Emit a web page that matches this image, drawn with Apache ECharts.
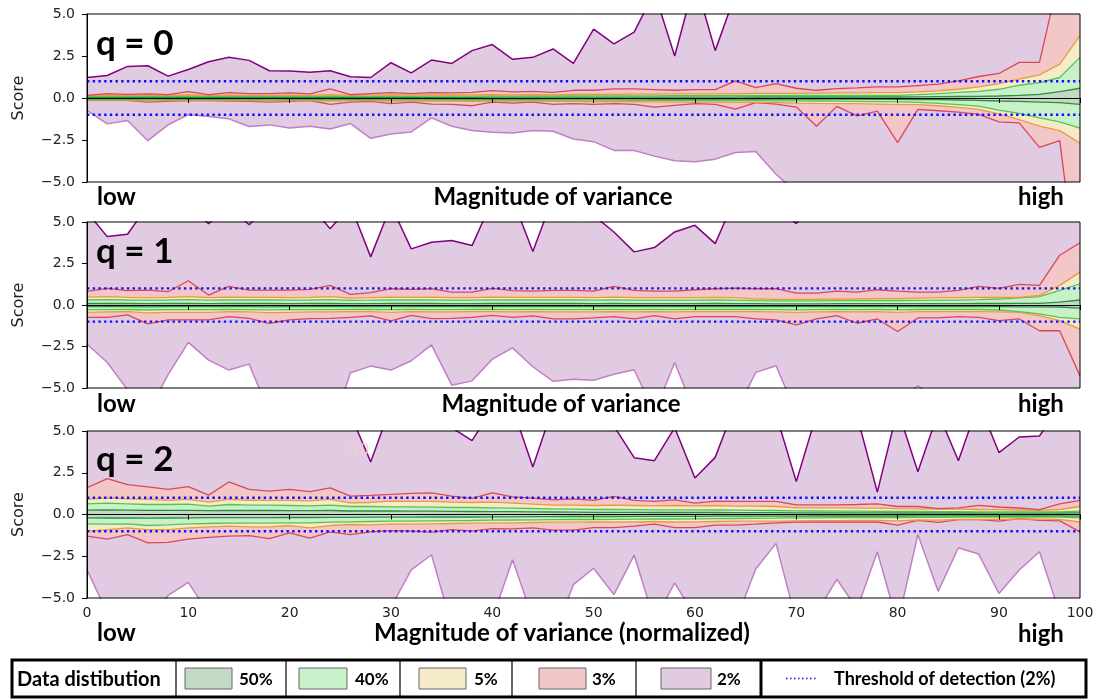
<!DOCTYPE html>
<html><head><meta charset="utf-8">
<script src="https://cdn.jsdelivr.net/npm/echarts@6/dist/echarts.min.js"></script>
<style>html,body{margin:0;padding:0;background:#fff}#c{width:1105px;height:699px}</style>
</head><body><div id="c"></div><script>
// ---------- DATA ----------
const xs = [0,2,4,6,8,10,12,14,16,18,20,22,24,26,28,30,32,34,36,38,40,42,44,46,48,50,52,54,56,58,60,62,64,66,68,70,72,74,76,78,80,82,84,86,88,90,92,94,96,98];
const threshold = [1, -1];
const panelTitles = ['q = 0', 'q = 1', 'q = 2'];
const xAxisTitles = ['Magnitude of variance', 'Magnitude of variance', 'Magnitude of variance (normalized)'];
const legendTitle = 'Data distibution';
const legendLabels = ['50%', '40%', '5%', '3%', '2%'];
const thresholdLabel = 'Threshold of detection (2%)';

// q = 0
const q0_p100 = [1.22,1.34,1.88,1.92,1.30,1.70,2.16,2.42,2.24,1.62, 1.60,1.54,1.62,1.26,1.22,2.10,1.50,2.26,2.06,2.82, 3.18,2.30,2.42,2.92,2.06,4.10,3.22,3.92,6.30,2.50, 7.00,2.82,6.20,7.00,7.00,7.00,7.00,7.00,7.00,7.00, 7.00,7.00,7.00,7.00,7.00,7.00,7.00,7.00,7.00,7.00];
const q0_p99 = [0.16,0.26,0.22,0.24,0.20,0.38,0.20,0.32,0.26,0.26, 0.30,0.24,0.54,0.20,0.26,0.32,0.26,0.32,0.30,0.34, 0.44,0.36,0.40,0.34,0.46,0.46,0.54,0.54,0.50,0.46, 0.50,0.50,1.02,0.62,0.86,0.58,0.46,0.56,0.60,0.66, 0.66,0.74,0.82,1.02,1.28,1.46,2.12,2.12,7.40,10.0];
const q0_p975 = [0.16,0.18,0.16,0.17,0.16,0.18,0.16,0.17,0.16,0.16, 0.17,0.16,0.20,0.16,0.17,0.18,0.17,0.18,0.18,0.19, 0.20,0.19,0.20,0.19,0.21,0.22,0.22,0.23,0.23,0.24, 0.24,0.25,0.26,0.27,0.28,0.28,0.29,0.30,0.31,0.32, 0.32,0.36,0.42,0.52,0.66,0.86,1.12,1.38,2.02,3.72];
const q0_p95 = [0.10,0.11,0.10,0.10,0.10,0.11,0.10,0.10,0.10,0.10, 0.10,0.10,0.12,0.10,0.10,0.11,0.10,0.11,0.11,0.11, 0.12,0.11,0.12,0.12,0.12,0.13,0.13,0.13,0.13,0.14, 0.14,0.14,0.15,0.15,0.15,0.15,0.15,0.15,0.16,0.16, 0.16,0.20,0.26,0.33,0.40,0.52,0.76,0.92,1.22,2.42];
const q0_p75 = [0.04,0.04,0.04,0.04,0.04,0.04,0.04,0.04,0.04,0.04, 0.04,0.04,0.05,0.04,0.04,0.04,0.04,0.04,0.04,0.04, 0.05,0.05,0.05,0.05,0.05,0.05,0.05,0.05,0.05,0.05, 0.05,0.05,0.05,0.06,0.06,0.06,0.06,0.06,0.06,0.06, 0.06,0.07,0.08,0.09,0.10,0.12,0.16,0.22,0.38,0.58];
const q0_p25 = [-0.04,-0.04,-0.04,-0.04,-0.04,-0.04,-0.04,-0.04,-0.04,-0.04, -0.04,-0.04,-0.05,-0.04,-0.04,-0.04,-0.04,-0.04,-0.05,-0.05, -0.05,-0.05,-0.05,-0.05,-0.05,-0.05,-0.05,-0.05,-0.06,-0.06, -0.06,-0.06,-0.06,-0.06,-0.06,-0.07,-0.07,-0.07,-0.07,-0.08, -0.08,-0.09,-0.10,-0.12,-0.14,-0.18,-0.20,-0.24,-0.28,-0.38];
const q0_p5 = [-0.10,-0.10,-0.10,-0.11,-0.10,-0.10,-0.10,-0.10,-0.10,-0.11, -0.10,-0.10,-0.12,-0.10,-0.10,-0.11,-0.11,-0.11,-0.12,-0.12, -0.12,-0.12,-0.12,-0.13,-0.13,-0.13,-0.13,-0.14,-0.14,-0.14, -0.15,-0.15,-0.16,-0.16,-0.17,-0.17,-0.18,-0.19,-0.20,-0.21, -0.22,-0.26,-0.32,-0.40,-0.48,-0.72,-0.92,-1.18,-1.42,-1.80];
const q0_p025 = [-0.15,-0.16,-0.15,-0.17,-0.16,-0.15,-0.15,-0.16,-0.16,-0.17, -0.16,-0.15,-0.19,-0.16,-0.16,-0.18,-0.17,-0.18,-0.19,-0.20, -0.18,-0.19,-0.19,-0.20,-0.20,-0.21,-0.21,-0.22,-0.23,-0.23, -0.24,-0.24,-0.26,-0.26,-0.27,-0.30,-0.32,-0.33,-0.34,-0.36, -0.38,-0.40,-0.46,-0.56,-0.68,-0.94,-1.28,-1.68,-1.94,-2.68];
const q0_p1 = [-0.10,-0.12,-0.14,-0.24,-0.20,-0.16,-0.16,-0.18,-0.20,-0.24, -0.20,-0.16,-0.38,-0.24,-0.20,-0.34,-0.24,-0.36,-0.38,-0.46, -0.24,-0.30,-0.24,-0.38,-0.34,-0.38,-0.34,-0.38,-0.54,-0.44, -0.34,-0.38,-0.66,-0.28,-0.36,-0.54,-1.68,-0.50,-1.06,-0.78, -2.66,-0.68,-0.76,-0.84,-0.98,-1.42,-1.48,-2.94,-2.54,-12.0];
const q0_p0 = [-0.74,-1.54,-1.34,-2.54,-1.60,-0.98,-1.10,-1.24,-1.70,-1.60, -1.78,-1.68,-1.84,-1.52,-2.40,-2.14,-2.02,-1.18,-1.68,-1.94, -2.04,-2.08,-1.94,-1.98,-2.44,-2.60,-3.12,-3.12,-3.46,-3.74, -3.80,-3.64,-3.24,-3.18,-4.54,-5.60,-7.0,-7.0,-7.0,-7.0, -7.0,-7.0,-7.0,-7.0,-7.0,-7.0,-7.0,-7.0,-7.0,-7.0];

// q = 1
const q1_p100 = [5.60,4.12,4.26,6.00,7.00,6.00,4.90,6.00,4.83,6.00, 6.50,6.00,4.60,6.00,2.90,6.00,3.38,3.78,3.88,3.58, 6.30,6.40,3.22,6.50,6.00,5.40,4.40,3.20,3.46,4.40, 4.80,3.70,6.50,6.00,6.00,4.90,6.50,7.00,7.00,7.00, 7.00,7.00,7.00,7.00,7.00,7.00,7.00,7.00,7.00,7.00];
const q1_p99 = [0.82,1.00,0.86,0.90,0.80,1.46,0.60,1.12,0.90,0.90, 0.90,0.94,1.18,0.64,0.74,0.98,0.94,0.98,0.78,0.78, 1.00,0.86,0.84,0.88,0.88,0.84,1.12,0.88,0.84,0.84, 0.92,0.98,1.02,0.98,0.98,0.72,0.72,0.84,0.78,0.92, 0.84,0.78,0.78,0.88,1.12,1.00,1.24,1.18,3.00,3.75];
const q1_p975 = [0.48,0.50,0.46,0.44,0.46,0.50,0.44,0.48,0.46,0.46, 0.44,0.46,0.50,0.42,0.44,0.48,0.46,0.48,0.44,0.44, 0.48,0.46,0.46,0.46,0.46,0.44,0.48,0.44,0.44,0.44, 0.44,0.46,0.44,0.36,0.34,0.34,0.34,0.36,0.36,0.38, 0.38,0.42,0.44,0.44,0.46,0.46,0.46,0.58,1.18,1.98];
const q1_p95 = [0.30,0.32,0.30,0.29,0.30,0.32,0.29,0.31,0.30,0.30, 0.29,0.30,0.32,0.28,0.29,0.31,0.30,0.31,0.29,0.29, 0.31,0.30,0.30,0.30,0.30,0.29,0.31,0.29,0.29,0.29, 0.29,0.30,0.29,0.26,0.25,0.25,0.25,0.26,0.26,0.27, 0.27,0.28,0.29,0.29,0.32,0.36,0.43,0.51,0.88,1.28];
const q1_p75 = [0.09,0.09,0.09,0.08,0.09,0.09,0.08,0.09,0.09,0.09, 0.08,0.09,0.09,0.08,0.08,0.09,0.09,0.09,0.08,0.08, 0.09,0.09,0.09,0.09,0.09,0.08,0.09,0.08,0.08,0.08, 0.08,0.09,0.08,0.08,0.07,0.07,0.07,0.08,0.08,0.08, 0.08,0.08,0.08,0.08,0.09,0.09,0.10,0.10,0.17,0.30];
const q1_p25 = [-0.10,-0.10,-0.10,-0.11,-0.10,-0.10,-0.10,-0.10,-0.10,-0.11, -0.10,-0.10,-0.10,-0.10,-0.10,-0.10,-0.10,-0.10,-0.10,-0.10, -0.10,-0.10,-0.10,-0.10,-0.10,-0.10,-0.10,-0.10,-0.10,-0.10, -0.10,-0.10,-0.10,-0.10,-0.10,-0.10,-0.10,-0.10,-0.10,-0.10, -0.10,-0.10,-0.10,-0.10,-0.10,-0.10,-0.11,-0.11,-0.12,-0.19];
const q1_p5 = [-0.28,-0.28,-0.27,-0.30,-0.28,-0.28,-0.28,-0.27,-0.28,-0.29, -0.28,-0.28,-0.28,-0.27,-0.27,-0.28,-0.27,-0.28,-0.28,-0.27, -0.27,-0.28,-0.27,-0.28,-0.28,-0.28,-0.27,-0.28,-0.27,-0.28, -0.27,-0.27,-0.27,-0.27,-0.28,-0.29,-0.28,-0.27,-0.28,-0.27, -0.29,-0.27,-0.27,-0.27,-0.27,-0.30,-0.40,-0.54,-0.74,-0.84];
const q1_p025 = [-0.44,-0.42,-0.40,-0.48,-0.44,-0.44,-0.44,-0.40,-0.42,-0.46, -0.44,-0.42,-0.42,-0.40,-0.40,-0.44,-0.40,-0.42,-0.42,-0.40, -0.40,-0.42,-0.40,-0.42,-0.42,-0.42,-0.40,-0.42,-0.40,-0.42, -0.40,-0.40,-0.40,-0.40,-0.42,-0.44,-0.42,-0.40,-0.42,-0.40, -0.44,-0.40,-0.40,-0.40,-0.40,-0.42,-0.44,-0.64,-0.94,-1.45];
const q1_p1 = [-0.74,-0.74,-0.60,-1.14,-0.90,-0.90,-0.90,-0.70,-0.80,-1.10, -0.90,-0.82,-0.80,-0.74,-0.66,-0.96,-0.62,-0.82,-0.80,-0.74, -0.62,-0.74,-0.66,-0.84,-0.84,-0.78,-0.70,-0.84,-0.64,-0.84, -0.70,-0.70,-0.70,-0.84,-0.90,-1.20,-0.84,-0.64,-1.10,-0.84, -1.60,-0.78,-0.78,-0.70,-0.74,-0.94,-0.84,-1.55,-1.55,-4.27];
const q1_p0 = [-2.35,-3.46,-5.10,-6.50,-4.20,-2.25,-3.32,-3.92,-3.56,-6.50, -7.00,-7.00,-7.80,-4.08,-3.68,-3.92,-3.36,-2.40,-4.83,-4.57, -3.26,-2.58,-3.72,-4.60,-4.47,-4.53,-4.17,-3.90,-6.50,-3.46, -6.50,-7.00,-6.50,-4.06,-3.66,-6.50,-7.00,-7.00,-7.00,-7.00, -6.00,-4.85,-6.00,-7.00,-7.00,-7.00,-7.00,-7.00,-7.00,-7.00];

// q = 2
const q2_p100 = [6.50,7.00,7.00,7.00,7.00,7.00,7.00,7.00,7.00,7.00, 7.00,7.00,7.00,6.00,3.15,6.50,7.00,6.50,5.20,4.42, 6.35,6.40,2.85,6.45,7.00,7.00,5.30,3.40,3.22,5.20, 2.19,3.42,6.60,7.00,6.00,1.97,6.00,7.00,5.90,1.34, 6.30,2.56,6.10,3.22,6.70,3.71,4.64,4.70,6.50,7.00];
const q2_p99 = [1.60,2.15,1.79,1.65,1.50,1.67,1.16,1.95,1.50,1.40, 1.50,1.37,1.60,1.10,1.14,1.20,1.27,1.30,1.10,0.96, 1.30,1.06,0.98,0.88,0.94,0.84,1.08,0.84,0.78,0.88, 0.68,0.80,0.78,0.78,0.78,0.58,0.58,0.58,0.60,0.64, 0.48,0.48,0.35,0.40,0.55,0.45,0.39,0.29,0.64,0.84];
const q2_p975 = [0.90,1.00,0.94,0.90,0.84,0.90,0.74,0.90,0.84,0.84, 0.84,0.82,0.90,0.70,0.72,0.80,0.78,0.78,0.74,0.72, 0.74,0.68,0.62,0.56,0.56,0.54,0.56,0.54,0.52,0.54, 0.52,0.54,0.50,0.50,0.48,0.40,0.40,0.40,0.38,0.38, 0.35,0.34,0.32,0.32,0.30,0.29,0.27,0.25,0.30,0.48];
const q2_p95 = [0.64,0.68,0.64,0.60,0.60,0.62,0.50,0.60,0.56,0.56, 0.54,0.52,0.56,0.48,0.48,0.46,0.46,0.44,0.42,0.42, 0.40,0.38,0.36,0.34,0.32,0.30,0.30,0.29,0.28,0.28, 0.28,0.27,0.26,0.25,0.24,0.22,0.21,0.20,0.20,0.19, 0.18,0.18,0.17,0.17,0.16,0.15,0.15,0.15,0.16,0.20];
const q2_p75 = [0.26,0.27,0.26,0.25,0.25,0.25,0.23,0.25,0.24,0.24, 0.23,0.23,0.24,0.21,0.21,0.21,0.20,0.20,0.19,0.18, 0.17,0.17,0.16,0.15,0.14,0.13,0.13,0.13,0.12,0.12, 0.12,0.12,0.11,0.11,0.11,0.10,0.10,0.10,0.10,0.10, 0.09,0.09,0.09,0.09,0.09,0.08,0.08,0.08,0.09,0.10];
const q2_p25 = [-0.20,-0.21,-0.20,-0.22,-0.21,-0.20,-0.19,-0.19,-0.19,-0.19, -0.18,-0.18,-0.17,-0.17,-0.16,-0.16,-0.16,-0.15,-0.15,-0.15, -0.14,-0.14,-0.13,-0.13,-0.12,-0.12,-0.12,-0.11,-0.11,-0.11, -0.11,-0.10,-0.10,-0.10,-0.10,-0.10,-0.09,-0.09,-0.09,-0.09, -0.09,-0.08,-0.08,-0.08,-0.08,-0.08,-0.08,-0.08,-0.08,-0.10];
const q2_p5 = [-0.56,-0.58,-0.56,-0.66,-0.62,-0.56,-0.54,-0.52,-0.52,-0.52, -0.50,-0.50,-0.46,-0.44,-0.42,-0.40,-0.40,-0.38,-0.37,-0.36, -0.34,-0.33,-0.32,-0.31,-0.30,-0.30,-0.29,-0.28,-0.27,-0.27, -0.26,-0.25,-0.24,-0.23,-0.22,-0.20,-0.20,-0.19,-0.19,-0.19, -0.19,-0.17,-0.17,-0.16,-0.16,-0.15,-0.15,-0.15,-0.16,-0.20];
const q2_p025 = [-1.00,-0.90,-0.80,-0.90,-0.90,-0.80,-0.74,-0.70,-0.74,-0.74, -0.66,-0.80,-0.66,-0.60,-0.62,-0.56,-0.58,-0.56,-0.54,-0.52, -0.50,-0.50,-0.48,-0.46,-0.46,-0.45,-0.45,-0.44,-0.42,-0.45, -0.44,-0.42,-0.40,-0.40,-0.40,-0.38,-0.37,-0.37,-0.36,-0.36, -0.38,-0.33,-0.34,-0.30,-0.30,-0.29,-0.27,-0.28,-0.30,-0.45];
const q2_p1 = [-1.30,-1.47,-1.20,-1.70,-1.67,-1.47,-1.37,-1.30,-1.27,-1.45, -1.10,-1.41,-1.04,-1.20,-1.04,-0.96,-1.00,-1.06,-0.90,-1.00, -0.84,-0.86,-0.80,-0.94,-0.94,-0.78,-0.78,-0.70,-0.58,-0.78, -0.78,-0.64,-0.64,-0.58,-0.50,-0.45,-0.45,-0.45,-0.45,-0.45, -0.64,-0.35,-0.47,-0.31,-0.31,-0.40,-0.25,-0.35,-0.38,-1.04];
const q2_p0 = [-3.31,-5.90,-7.00,-6.50,-4.85,-4.06,-5.94,-7.00,-7.00,-7.00, -7.00,-7.00,-7.00,-7.00,-7.00,-5.56,-3.31,-2.41,-6.70,-7.00, -6.23,-2.71,-6.23,-7.40,-4.20,-3.22,-4.80,-2.43,-6.37,-4.10, -6.10,-7.00,-6.40,-3.26,-1.73,-6.40,-5.90,-3.88,-5.65,-2.23, -6.55,-1.20,-4.60,-1.99,-2.37,-4.73,-3.32,-2.23,-5.92,-7.00];

// ---------- BUILD ----------
const panels = [
  {p0:q0_p0,p1:q0_p1,p025:q0_p025,p5:q0_p5,p25:q0_p25,p75:q0_p75,p95:q0_p95,p975:q0_p975,p99:q0_p99,p100:q0_p100},
  {p0:q1_p0,p1:q1_p1,p025:q1_p025,p5:q1_p5,p25:q1_p25,p75:q1_p75,p95:q1_p95,p975:q1_p975,p99:q1_p99,p100:q1_p100},
  {p0:q2_p0,p1:q2_p1,p025:q2_p025,p5:q2_p5,p25:q2_p25,p75:q2_p75,p95:q2_p95,p975:q2_p975,p99:q2_p99,p100:q2_p100}
];
const levels = ['p0','p1','p025','p5','p25','p75','p95','p975','p99','p100'];
const C = {purple:'#e1cbe3', red:'#f3c6c7', yellow:'#f6ebc9', lgreen:'#c9f1c9', dgreen:'#c3d9c3'};
const bandFills = [C.purple, C.red, C.yellow, C.lgreen, C.dgreen, C.lgreen, C.yellow, C.red, C.purple];
const lineColors = ['#c27ec6','#d8475b','#e89b3e','#52c452','#2f8c40','#2f8c40','#52c452','#e89b3e','#d8475b','#800080'];
const legendFills = [C.dgreen, C.lgreen, C.yellow, C.red, C.purple];

const gridTops = [14, 222, 431], gridHeights = [168, 166, 167];
const grids = [], xAxes = [], yAxes = [], series = [];
const tickFont = 'DejaVu Sans';
const fmtY = v => (v < 0 ? '\u2212' : '') + Math.abs(v).toFixed(1);

panels.forEach((P, i) => {
  grids.push({left: 87, right: 25, top: gridTops[i], height: gridHeights[i], show: true,
    borderColor: '#000', borderWidth: 1, backgroundColor: 'transparent', z: 10});
  xAxes.push({gridIndex: i, type: 'value', min: 0, max: 98, interval: 10, z: 10,
    axisLine: {show: true, lineStyle: {color: '#000', width: 1}},
    axisTick: {show: true, length: 5, lineStyle: {color: '#000'}},
    splitLine: {show: false},
    axisLabel: {show: i === 2, showMaxLabel: true, showMinLabel: true, margin: 8, color: '#222', fontSize: 14,
      fontFamily: tickFont, formatter: v => (v > 95 ? '100' : String(v))}});
  yAxes.push({gridIndex: i, type: 'value', min: -5, max: 5, interval: 2.5, z: 10,
    name: 'Score', nameLocation: 'middle', nameGap: 60,
    nameTextStyle: {fontSize: 16, fontFamily: tickFont, color: '#222'},
    axisLine: {show: true, lineStyle: {color: '#000', width: 1}},
    axisTick: {show: true, length: 5, lineStyle: {color: '#000'}},
    splitLine: {show: false},
    axisLabel: {margin: 12, color: '#222', fontSize: 14, fontFamily: tickFont, formatter: fmtY}});

  // band fills: polygon between consecutive boundaries, positioned via the axes
  series.push({type: 'custom', xAxisIndex: i, yAxisIndex: i, silent: true, animation: false, clip: true, z: 2,
    data: bandFills.map((c, k) => [k]),
    encode: {x: -1, y: -1},
    renderItem: (params, api) => {
      const k = params.dataIndex;
      const lo = P[levels[k]], hi = P[levels[k + 1]];
      const pts = [];
      xs.forEach((x, j) => pts.push(api.coord([x, hi[j]])));
      for (let j = xs.length - 1; j >= 0; j--) pts.push(api.coord([xs[j], lo[j]]));
      const cs = params.coordSys;
      return {type: 'polygon', shape: {points: pts}, style: {fill: bandFills[k], stroke: null},
        clipPath: {type: 'rect', shape: {x: cs.x, y: cs.y, width: cs.width, height: cs.height}}};
    }});

  const base = {type: 'line', xAxisIndex: i, yAxisIndex: i, symbol: 'none', silent: true, animation: false, clip: true};
  levels.forEach((lv, k) => {
    series.push(Object.assign({}, base, {z: 3,
      lineStyle: {color: lineColors[k], width: (k === 0 || k === 9) ? 1.5 : 1.3},
      data: xs.map((x, j) => [x, P[lv][j]])}));
  });
  threshold.forEach(t => {
    series.push(Object.assign({}, base, {z: 4,
      lineStyle: {color: '#1010ff', width: 2.4, type: [2.4, 3.3], cap: 'butt'},
      data: [[xs[0], t], [xs[xs.length - 1], t]]}));
  });
});

// ---------- TEXT / LEGEND ----------
const bold = 'Lato';
const g = [];
const qTops = [26, 234, 442];
const lowTops = [185, 392, 621];
const midX = [553, 561, 562];
panelTitles.forEach((t, i) => {
  g.push({type: 'text', left: 96, top: qTops[i], z: 20, style: {text: t, font: 'bold 35px ' + bold, fill: '#000'}});
  g.push({type: 'text', left: 97, top: lowTops[i], z: 20, style: {text: 'low', font: 'bold 24px ' + bold, fill: '#000'}});
  g.push({type: 'text', left: 1018, top: lowTops[i] + (i === 2 ? 1 : 0), z: 20, style: {text: 'high', font: 'bold 24px ' + bold, fill: '#000'}});
  g.push({type: 'text', x: midX[i], y: lowTops[i], z: 20, style: {text: xAxisTitles[i], font: 'bold 24px ' + bold, fill: '#000', textAlign: 'center', textVerticalAlign: 'top'}});
});
g.push({type: 'text', left: 349, top: 443, z: 20, style: {text: '50', font: '16px DejaVu Sans', fill: '#f1cfca'}});

const LY = 660, LH = 37, LC = LY + LH / 2;
g.push({type: 'rect', z: 20, shape: {x: 12, y: LY, width: 1074, height: LH}, style: {fill: '#fff', stroke: '#000', lineWidth: 3}});
[176, 286, 400, 512, 636].forEach(x => g.push({type: 'line', z: 21, shape: {x1: x, y1: LY, x2: x, y2: LY + LH}, style: {stroke: '#000', lineWidth: 1.2}}));
g.push({type: 'line', z: 21, shape: {x1: 761, y1: LY, x2: 761, y2: LY + LH}, style: {stroke: '#000', lineWidth: 3}});
g.push({type: 'text', z: 22, x: 17, y: LC + 1, style: {text: legendTitle, font: 'bold 20px ' + bold, fill: '#000', textVerticalAlign: 'middle'}});
const swX = [185, 299, 419, 539, 661], swW = [47, 48, 47, 47, 50], labX = [239, 355, 474, 592, 717];
legendLabels.forEach((lab, k) => {
  g.push({type: 'rect', z: 22, shape: {x: swX[k], y: LY + 8, width: swW[k], height: 21}, style: {fill: legendFills[k], stroke: '#666', lineWidth: 1}});
  g.push({type: 'text', z: 22, x: labX[k], y: LC + 1, style: {text: lab, font: 'bold 17px ' + bold, fill: '#000', textVerticalAlign: 'middle'}});
});
g.push({type: 'line', z: 22, shape: {x1: 786, y1: LC, x2: 818, y2: LC}, style: {stroke: '#1010ff', lineWidth: 1.5, lineDash: [1.5, 2.5]}});
g.push({type: 'text', z: 22, x: 834, y: LC + 1, style: {text: thresholdLabel, font: 'bold 18px ' + bold, fill: '#000', textVerticalAlign: 'middle'}});

const chart = echarts.init(document.getElementById('c'), null, {renderer: 'canvas'});
chart.setOption({
  animation: false,
  backgroundColor: '#fff',
  grid: grids, xAxis: xAxes, yAxis: yAxes, series: series,
  graphic: {elements: g}
});
</script></body></html>
